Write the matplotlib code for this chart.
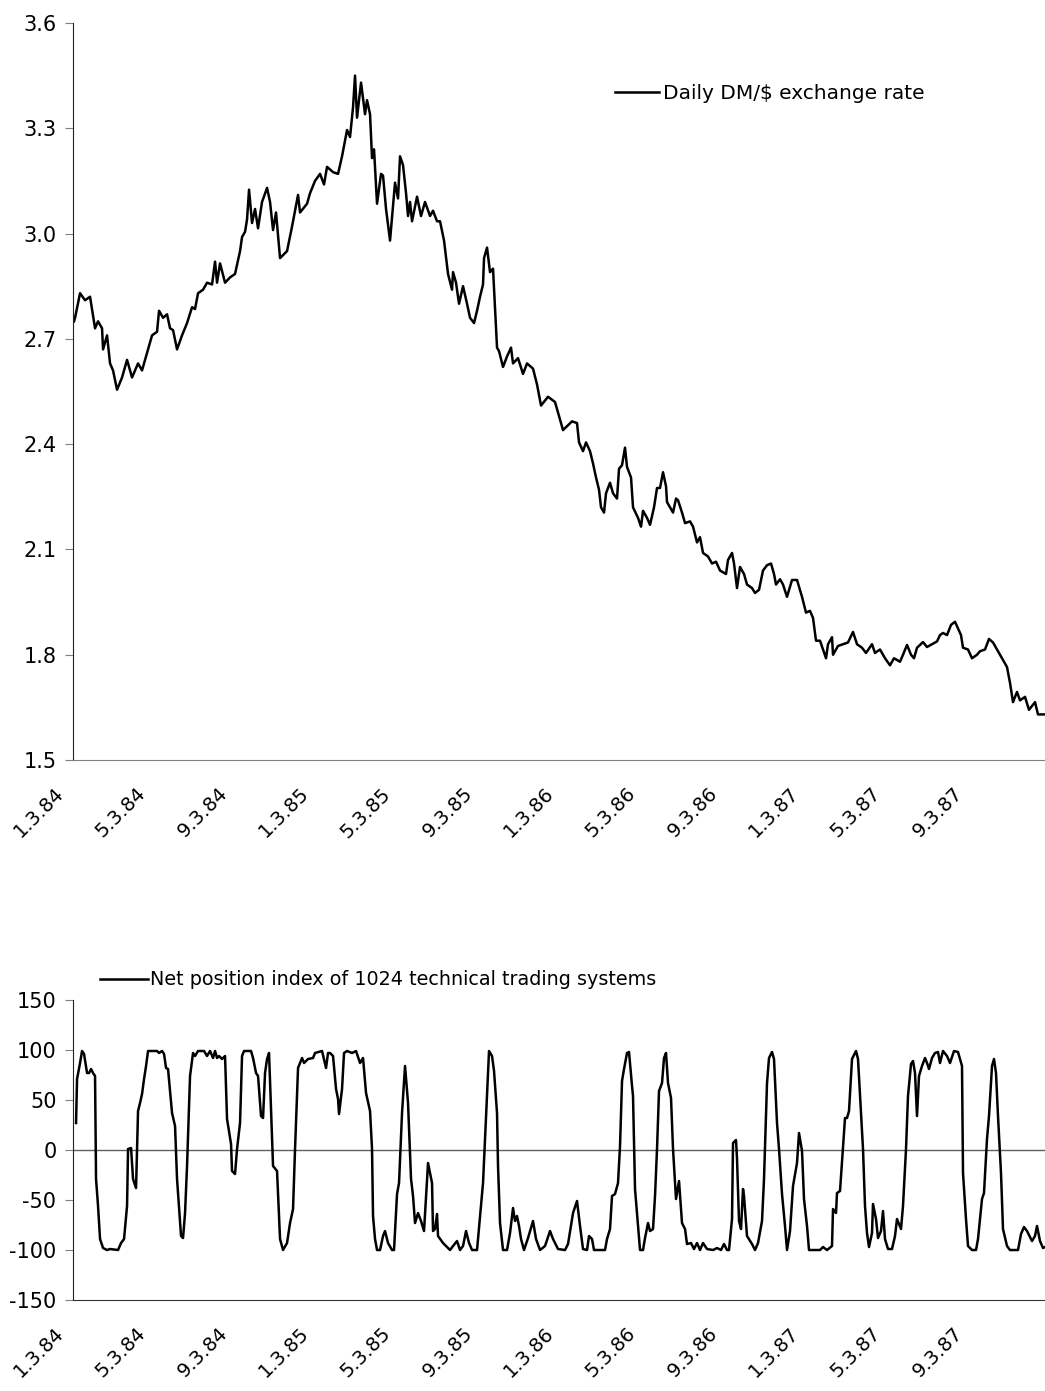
import numpy as np
import matplotlib
matplotlib.use('Agg')
import matplotlib.pyplot as plt
import matplotlib.transforms as mtransforms

plt.rcParams['font.family'] = ['DejaVu Sans']
plt.rcParams['axes.unicode_minus'] = False

# trading day index (0 = 3 Jan 1984) and DM/$ rate
rate_day = [0, 1, 6, 11, 16, 21, 24, 28, 29, 33, 36, 39, 43, 48, 53, 58, 64, 68, 73, 78,
            83, 85, 89, 93, 96, 99, 103, 108, 113, 118, 121, 124, 129, 133, 138, 141, 143, 146, 151, 156,
            161, 166, 168, 171, 173, 175, 178, 181, 184, 188, 193, 196, 199, 202, 206, 213, 218, 224, 226, 233,
            236, 241, 246, 250, 253, 259, 264, 268, 273, 276, 279, 281, 283, 287, 291, 293, 296, 298, 300, 303,
            307, 309, 312, 316, 321, 324, 326, 329, 332, 334, 336, 338, 343, 347, 351, 356, 359, 363, 366, 370,
            374, 378, 379, 382, 385, 389, 393, 396, 400, 403, 406, 409, 410, 413, 416, 419, 423, 425, 429, 433,
            437, 439, 444, 449, 453, 459, 463, 467, 474, 481, 486, 489, 498, 503, 505, 509, 512, 516, 519, 522,
            525, 527, 530, 532, 536, 539, 543, 545, 548, 551, 553, 557, 559, 564, 567, 569, 573, 576, 580, 583,
            586, 589, 592, 593, 599, 602, 604, 608, 611, 616, 619, 623, 626, 629, 634, 638, 642, 646, 652, 654,
            658, 660, 663, 666, 670, 673, 678, 681, 685, 689, 693, 697, 700, 702, 706, 709, 713, 718, 723, 728,
            732, 736, 739, 742, 746, 749, 752, 754, 758, 759, 764, 769, 774, 779, 783, 788, 792, 798, 801, 806,
            811, 816, 820, 826, 829, 833, 837, 840, 843, 849, 853, 858, 863, 866, 869, 873, 877, 881, 884, 887,
            889, 894, 898, 903, 906, 911, 915, 919, 923, 926, 929, 933, 936, 939, 943, 946, 951, 955, 961, 964,
            971]
rate = [2.75, 2.76, 2.83, 2.81, 2.82, 2.73, 2.75, 2.73, 2.67, 2.71, 2.63, 2.61, 2.555, 2.59, 2.64, 2.59, 2.63, 2.61, 2.66, 2.71,
        2.72, 2.78, 2.76, 2.77, 2.73, 2.725, 2.67, 2.71, 2.745, 2.79, 2.785, 2.83, 2.84, 2.86, 2.855, 2.92, 2.86, 2.915, 2.86, 2.875,
        2.885, 2.95, 2.99, 3.005, 3.04, 3.125, 3.03, 3.07, 3.015, 3.09, 3.13, 3.09, 3.01, 3.06, 2.93, 2.95, 3.02, 3.11, 3.06, 3.085,
        3.115, 3.15, 3.17, 3.14, 3.19, 3.175, 3.17, 3.22, 3.295, 3.275, 3.36, 3.45, 3.33, 3.43, 3.34, 3.38, 3.34, 3.215, 3.24, 3.085,
        3.17, 3.165, 3.07, 2.98, 3.145, 3.10, 3.22, 3.195, 3.115, 3.05, 3.09, 3.035, 3.105, 3.05, 3.09, 3.05, 3.065, 3.035, 3.035, 2.98,
        2.885, 2.84, 2.89, 2.86, 2.80, 2.85, 2.80, 2.76, 2.745, 2.78, 2.82, 2.855, 2.93, 2.96, 2.89, 2.90, 2.675, 2.665, 2.62, 2.65,
        2.675, 2.63, 2.645, 2.60, 2.63, 2.615, 2.57, 2.51, 2.535, 2.52, 2.47, 2.44, 2.465, 2.46, 2.405, 2.38, 2.405, 2.38, 2.345, 2.305,
        2.27, 2.22, 2.205, 2.26, 2.29, 2.26, 2.245, 2.33, 2.34, 2.39, 2.335, 2.305, 2.22, 2.19, 2.165, 2.21, 2.19, 2.17, 2.22, 2.275,
        2.275, 2.32, 2.28, 2.235, 2.205, 2.245, 2.24, 2.205, 2.175, 2.18, 2.165, 2.12, 2.135, 2.09, 2.08, 2.06, 2.065, 2.04, 2.03, 2.07,
        2.09, 2.06, 1.99, 2.05, 2.03, 2.00, 1.99, 1.976, 1.985, 2.04, 2.055, 2.06, 2.03, 2.00, 2.015, 2.00, 1.965, 2.013, 2.013, 1.965,
        1.92, 1.925, 1.905, 1.84, 1.84, 1.815, 1.79, 1.83, 1.85, 1.80, 1.825, 1.83, 1.835, 1.865, 1.83, 1.82, 1.805, 1.83, 1.805, 1.815,
        1.79, 1.77, 1.79, 1.78, 1.80, 1.828, 1.80, 1.79, 1.82, 1.836, 1.822, 1.83, 1.838, 1.856, 1.862, 1.856, 1.885, 1.894, 1.875, 1.856,
        1.82, 1.815, 1.79, 1.80, 1.81, 1.815, 1.845, 1.835, 1.815, 1.80, 1.785, 1.765, 1.72, 1.665, 1.694, 1.67, 1.68, 1.643, 1.665, 1.63,
        1.63]

# net position index of the trading systems
pos_day = [2, 3, 6, 8, 10, 13, 15, 17, 19, 21, 22, 24, 26, 29, 33, 36, 44, 47, 50, 53,
           54, 57, 59, 62, 64, 66, 68, 70, 72, 74, 83, 85, 88, 90, 92, 94, 98, 101, 103, 107,
           109, 111, 113, 116, 119, 121, 124, 130, 133, 136, 139, 141, 143, 145, 148, 151, 153, 157, 158, 161,
           163, 166, 168, 170, 177, 179, 182, 184, 187, 189, 191, 193, 195, 199, 203, 206, 209, 213, 216, 219,
           221, 224, 228, 230, 234, 239, 241, 248, 252, 254, 256, 259, 262, 264, 265, 268, 270, 273, 278, 282,
           286, 289, 292, 296, 298, 299, 301, 303, 306, 309, 311, 314, 318, 320, 323, 325, 328, 331, 334, 337,
           339, 341, 344, 347, 350, 354, 358, 359, 361, 363, 364, 369, 376, 379, 383, 386, 389, 392, 395, 398,
           403, 406, 409, 413, 415, 418, 420, 423, 424, 426, 429, 433, 436, 439, 441, 443, 445, 447, 450, 454,
           459, 462, 466, 471, 476, 479, 484, 491, 494, 499, 503, 506, 509, 513, 515, 518, 520, 531, 533, 536,
           538, 541, 544, 546, 548, 550, 553, 555, 558, 559, 561, 563, 566, 569, 571, 574, 576, 579, 581, 583,
           585, 588, 590, 592, 594, 597, 599, 602, 605, 608, 611, 613, 617, 620, 623, 626, 629, 633, 639, 643,
           647, 650, 653, 655, 658, 659, 662, 663, 665, 667, 669, 670, 673, 678, 681, 684, 688, 690, 693, 695,
           698, 700, 703, 705, 708, 711, 713, 716, 719, 723, 725, 728, 730, 733, 735, 741, 746, 749, 753, 758,
           759, 762, 763, 766, 769, 771, 773, 775, 778, 782, 784, 787, 789, 791, 793, 795, 798, 799, 802, 804,
           807, 809, 811, 814, 818, 821, 823, 827, 829, 832, 834, 837, 839, 841, 843, 845, 848, 851, 853, 855,
           858, 861, 864, 866, 869, 873, 876, 880, 884, 888, 889, 892, 894, 898, 902, 904, 908, 910, 913, 915,
           918, 920, 922, 924, 927, 929, 933, 936, 944, 947, 950, 953, 958, 961, 963, 966, 969, 971]
position = [27, 71, 87, 99, 96, 77, 77, 81, 77, 74, -29, -56, -89, -98, -100, -99, -100, -93, -89, -56,
            1, 2, -29, -38, 39, 47, 56, 71, 84, 99, 99, 97, 99, 96, 82, 81, 37, 24, -29, -86,
            -88, -63, -16, 74, 97, 94, 99, 99, 94, 99, 92, 99, 92, 94, 91, 94, 31, 6, -21, -24,
            1, 27, 94, 99, 99, 92, 77, 74, 34, 32, 77, 91, 97, -16, -21, -89, -100, -93, -73, -59,
            1, 82, 92, 87, 91, 92, 97, 99, 82, 97, 97, 94, 61, 51, 36, 61, 97, 99, 97, 99,
            87, 92, 57, 39, 1, -66, -89, -100, -100, -86, -81, -93, -100, -100, -44, -33, 37, 84, 47, -29,
            -46, -73, -63, -71, -81, -13, -33, -81, -79, -64, -86, -93, -100, -96, -91, -100, -96, -81, -93, -100,
            -100, -66, -33, 54, 99, 94, 79, 37, -16, -73, -100, -100, -83, -58, -71, -66, -76, -89, -100, -88,
            -71, -89, -100, -96, -81, -89, -99, -100, -94, -63, -51, -76, -99, -100, -86, -89, -100, -100, -89, -79,
            -46, -44, -33, 4, 69, 81, 97, 98, 64, 54, -39, -63, -100, -100, -88, -73, -81, -79, -46, 1,
            59, 67, 92, 97, 67, 52, 1, -49, -31, -73, -79, -94, -93, -99, -93, -100, -93, -99, -100, -98,
            -100, -94, -100, -100, -69, 7, 10, -9, -71, -79, -39, -46, -86, -94, -100, -93, -71, -29, 67, 92,
            98, 91, 27, 1, -44, -76, -100, -81, -36, -13, 17, -1, -49, -76, -100, -100, -100, -97, -100, -96,
            -59, -63, -43, -41, 2, 32, 32, 39, 91, 99, 91, 37, 1, -56, -83, -97, -83, -54, -69, -88,
            -81, -61, -89, -99, -99, -86, -69, -79, -56, 1, 54, 86, 89, 77, 34, 74, 84, 92, 87, 81,
            92, 97, 98, 87, 99, 94, 87, 99, 98, 84, -23, -69, -96, -100, -100, -89, -49, -43, 11, 34,
            84, 91, 77, 34, -23, -79, -96, -100, -100, -84, -77, -81, -91, -86, -76, -91, -98, -97]

tick_labels = ['1.3.84', '5.3.84', '9.3.84', '1.3.85', '5.3.85', '9.3.85',
               '1.3.86', '5.3.86', '9.3.86', '1.3.87', '5.3.87', '9.3.87']
days_per_tick = 81.7   # roughly four months of trading days
tick_pos = np.arange(len(tick_labels)) * days_per_tick

fig = plt.figure(figsize=(10.45, 13.91), dpi=100)
ax1 = fig.add_axes([0.0699, 0.4536, 0.9301, 0.5299])
ax2 = fig.add_axes([0.0699, 0.0654, 0.9301, 0.2157])

ax1.plot(rate_day, rate, color='black', lw=1.8, label='Daily DM/$ exchange rate')
ax1.set_ylim(1.5, 3.6)
ax1.set_yticks(np.arange(1.5, 3.61, 0.3))
ax1.set_yticklabels([f'{v:.1f}' for v in np.arange(1.5, 3.61, 0.3)])
ax1.legend(loc='center left', bbox_to_anchor=(0.5576, 0.9037), frameon=False,
           handlelength=2.2, handletextpad=0.2, borderpad=0, borderaxespad=0, fontsize=14.5)

ax2.axhline(0, color='#606060', lw=1.0, zorder=1)
ax2.plot(pos_day, position, color='black', lw=1.8, zorder=2,
         label='Net position index of 1024 technical trading systems')
ax2.set_ylim(-150, 150)
ax2.set_yticks(np.arange(-150, 151, 50))
ax2.legend(loc='center left', bbox_to_anchor=(0.0278, 1.0667), frameon=False,
           handlelength=2.5, handletextpad=0.1, borderpad=0, borderaxespad=0, fontsize=13.8)

shift = mtransforms.ScaledTranslation(-13 / 100, 0, fig.dpi_scale_trans)
for ax, bottom_col in ((ax1, '#808080'), (ax2, '#333333')):
    ax.set_xlim(-1, 971)
    ax.set_xticks(tick_pos)
    ax.set_xticklabels(tick_labels, rotation=45, ha='right', va='center',
                       rotation_mode='anchor', fontsize=14)
    ax.spines['top'].set_visible(False)
    ax.spines['right'].set_visible(False)
    ax.spines['left'].set_color('#222222')
    ax.spines['bottom'].set_color(bottom_col)
    ax.tick_params(axis='y', direction='out', length=6, color='#808080', labelsize=15, pad=6)
    ax.tick_params(axis='x', length=0, pad=22)
    # nudge the rotated date labels left of their ticks (after tick_params, which resets transforms)
    for lab in ax.get_xticklabels():
        lab.set_transform(lab.get_transform() + shift)

fig.savefig('out.png', dpi=100)
